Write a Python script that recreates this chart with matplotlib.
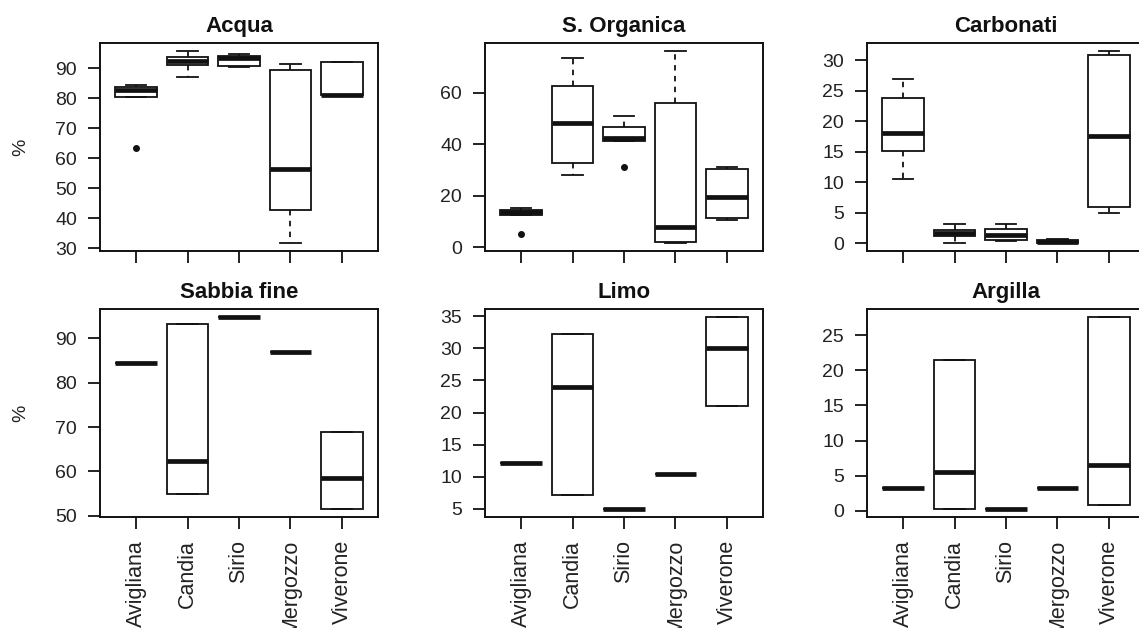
import matplotlib
matplotlib.use("Agg")
import matplotlib.pyplot as plt

plt.rcParams["font.family"] = ["Liberation Sans", "DejaVu Sans"]

LAKES = ["Avigliana", "Candia", "Sirio", "Mergozzo", "Viverone"]

# per-lake summary stats: lower whisker, Q1, median, Q3, upper whisker
ACQUA = {
    "lo":  [80.4, 86.9, 90.4, 31.6, 80.9],
    "q1":  [80.5, 90.9, 90.6, 42.6, 80.9],
    "med": [82.7, 92.3, 93.4, 56.5, 81.2],
    "q3":  [83.8, 93.6, 94.1, 89.4, 92.0],
    "hi":  [84.4, 95.8, 94.7, 91.4, 92.0],
}
ACQUA_OUT = [[63.4], [], [], [], []]

ORGANICA = {
    "lo":  [12.4, 28.1, 41.4, 1.6, 10.7],
    "q1":  [12.4, 32.7, 41.4, 2.2, 11.4],
    "med": [13.6, 48.2, 42.4, 8.1, 19.5],
    "q3":  [14.6, 62.7, 46.7, 56.2, 30.3],
    "hi":  [15.3, 73.4, 51.1, 76.3, 31.0],
}
ORGANICA_OUT = [[5.1], [], [31.0], [], []]

CARBONATI = {
    "lo":  [10.6, 0.0, 0.4, 0.0, 5.0],
    "q1":  [15.2, 1.2, 0.55, 0.0, 6.0],
    "med": [18.1, 1.7, 1.3, 0.2, 17.6],
    "q3":  [23.9, 2.2, 2.3, 0.6, 30.9],
    "hi":  [26.9, 3.2, 3.2, 0.7, 31.6],
}
CARBONATI_OUT = [[], [], [], [], []]

SABBIA = {
    "lo":  [84.5, 54.9, 94.8, 86.8, 51.5],
    "q1":  [84.5, 54.9, 94.8, 86.8, 51.5],
    "med": [84.5, 62.4, 94.8, 86.8, 58.6],
    "q3":  [84.5, 93.2, 94.8, 86.8, 68.8],
    "hi":  [84.5, 93.2, 94.8, 86.8, 68.8],
}

LIMO = {
    "lo":  [12.2, 7.1, 4.95, 10.5, 21.0],
    "q1":  [12.2, 7.1, 4.95, 10.5, 21.0],
    "med": [12.2, 23.9, 4.95, 10.5, 30.1],
    "q3":  [12.2, 32.2, 4.95, 10.5, 34.9],
    "hi":  [12.2, 32.2, 4.95, 10.5, 34.9],
}

ARGILLA = {
    "lo":  [3.2, 0.24, 0.24, 3.2, 0.85],
    "q1":  [3.2, 0.24, 0.24, 3.2, 0.85],
    "med": [3.2, 5.6, 0.24, 3.2, 6.6],
    "q3":  [3.2, 21.5, 0.24, 3.2, 27.6],
    "hi":  [3.2, 21.5, 0.24, 3.2, 27.6],
}

NO_OUT = [[], [], [], [], []]

PANELS = [
    ("Acqua", ACQUA, ACQUA_OUT, [30, 40, 50, 60, 70, 80, 90]),
    ("S. Organica", ORGANICA, ORGANICA_OUT, [0, 20, 40, 60]),
    ("Carbonati", CARBONATI, CARBONATI_OUT, [0, 5, 10, 15, 20, 25, 30]),
    ("Sabbia fine", SABBIA, NO_OUT, [50, 60, 70, 80, 90]),
    ("Limo", LIMO, NO_OUT, [5, 10, 15, 20, 25, 30, 35]),
    ("Argilla", ARGILLA, NO_OUT, [0, 5, 10, 15, 20, 25]),
]

W, H = 1139, 628
fig = plt.figure(figsize=(W / 100, H / 100), dpi=100)

# axes boxes in pixels: (left, top, width, height)
col_left = [100, 485, 867]
row_top = [43, 309]
ax_w, ax_h = 278, 208

ink = "#111111"
label_ink = "#222222"

for k, (title, st, outl, yticks) in enumerate(PANELS):
    r, c = divmod(k, 3)
    l, t = col_left[c], row_top[r]
    ax = fig.add_axes([l / W, 1 - (t + ax_h) / H, ax_w / W, ax_h / H])

    stats = []
    for i in range(len(LAKES)):
        stats.append({
            "whislo": st["lo"][i], "q1": st["q1"][i], "med": st["med"][i],
            "q3": st["q3"][i], "whishi": st["hi"][i], "fliers": outl[i],
        })

    ax.set_ymargin(0.04)
    ax.bxp(
        stats, positions=range(1, 6), widths=0.8, capwidths=0.4,
        patch_artist=True,
        boxprops=dict(facecolor="white", edgecolor=ink, linewidth=1.3),
        medianprops=dict(color=ink, linewidth=3.4, solid_capstyle="butt"),
        whiskerprops=dict(color=ink, linewidth=1.3, linestyle=(0, (3, 3))),
        capprops=dict(color=ink, linewidth=1.3),
        flierprops=dict(marker="o", markersize=4, markerfacecolor=ink,
                        markeredgecolor=ink),
    )
    ax.set_xlim(0.3, 5.7)
    ax.set_yticks(yticks)
    ax.set_xticks(range(1, 6))
    ax.tick_params(axis="both", direction="out", length=8.5, width=1.3,
                   color=ink, labelcolor=label_ink)
    ax.tick_params(axis="y", pad=8, labelsize=14)
    ax.tick_params(axis="x", pad=8, labelsize=15.5)
    if r == 1:
        ax.set_xticklabels(LAKES, rotation=90)
    else:
        ax.set_xticklabels([])
    for sp in ax.spines.values():
        sp.set_linewidth(1.4)
        sp.set_color(ink)
    ax.set_title(title, fontsize=16, fontweight="bold", color=ink, pad=8)
    if c == 0:
        ax.set_ylabel("%", fontsize=14, color=label_ink)
        ax.yaxis.set_label_coords(-0.255, 0.5)

fig.savefig("out.png", dpi=100)
